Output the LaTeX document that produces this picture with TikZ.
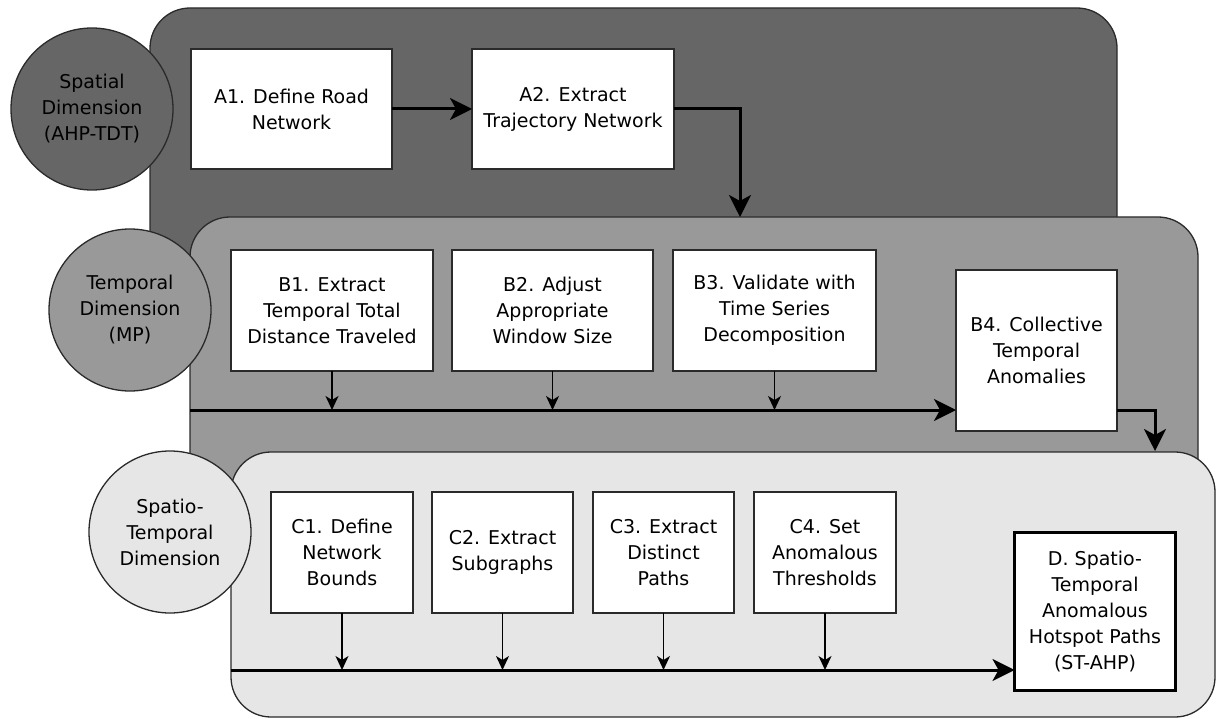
\documentclass[tikz,border=0pt]{standalone}
\usepackage{fontspec}
\setmainfont{DejaVu Sans}
\usetikzlibrary{arrows.meta}
\definecolor{panelA}{HTML}{666666}
\definecolor{panelB}{HTML}{999999}
\definecolor{panelC}{HTML}{E6E6E6}
\definecolor{edge}{HTML}{2A2A2A}
\tikzset{
  panel/.style={draw=edge, line width=1.3pt, rounded corners=40pt, inner sep=0pt, outer sep=0pt},
  dimcircle/.style={circle, draw=edge, line width=1.3pt, minimum size=162pt, inner sep=0pt, align=center, font=\fontsize{19}{26}\selectfont},
  stepbox/.style={draw=edge, fill=white, line width=1.3pt, inner sep=0pt, outer sep=0pt, align=center, font=\fontsize{19}{26}\selectfont},
  bigarrow/.style={line width=3pt, -{Stealth[length=22pt, width=22pt, inset=6pt]}},
  smallarrow/.style={line width=1.5pt, -{Stealth[length=14pt, width=13pt, inset=4pt]}},
  busline/.style={line width=3pt}
}
\begin{document}
\begin{tikzpicture}[x=1pt, y=-1pt]
\useasboundingbox (0,0) rectangle (1217,719);
% Panel A
\node[panel, fill=panelA, minimum width=967pt, minimum height=292pt] (pA) at (633.5,154) {};
\node[dimcircle, fill=panelA] (cA) at (92,109) {Spatial\\Dimension\\(AHP-TDT)};
\node[stepbox, minimum width=201pt, minimum height=120pt] (A1) at (291.5,109) {A1. Define Road\\Network};
\node[stepbox, minimum width=202pt, minimum height=120pt] (A2) at (573,109) {A2. Extract\\Trajectory Network};
\draw[bigarrow] (A1) -- (A2);
% Panel B
\node[panel, fill=panelB, minimum width=1008pt, minimum height=303pt] (pB) at (694,368.5) {};
\coordinate (Bin) at (740,217);
\draw[bigarrow] (A2.east) -| (Bin);
\node[dimcircle, fill=panelB] (cB) at (130,310) {Temporal\\Dimension\\(MP)};
\node[stepbox, minimum width=202pt, minimum height=121pt] (B1) at (332,310.5) {B1. Extract\\Temporal Total\\Distance Traveled};
\node[stepbox, minimum width=201pt, minimum height=121pt] (B2) at (552.5,310.5) {B2. Adjust\\Appropriate\\Window Size};
\node[stepbox, minimum width=203pt, minimum height=121pt] (B3) at (774.5,310.5) {B3. Validate with\\Time Series\\Decomposition};
\node[stepbox, minimum width=161pt, minimum height=161pt] (B4) at (1036.5,350.5) {B4. Collective\\Temporal\\Anomalies};
\coordinate (busB) at (190,410);
\draw[bigarrow] (busB) -- (B4.west |- busB);
\foreach \b in {B1,B2,B3} \draw[smallarrow] (\b.south) -- (\b.south |- busB);
% Panel C
\node[panel, fill=panelC, minimum width=984pt, minimum height=265pt] (pC) at (723,584.5) {};
\coordinate (Cin) at (1155,451);
\draw[bigarrow] (B4.east |- busB) -| (Cin);
\node[dimcircle, fill=panelC] (cC) at (170,532) {Spatio-\\Temporal\\Dimension};
\node[stepbox, minimum width=142pt, minimum height=121pt] (C1) at (342,552.5) {C1. Define\\Network\\Bounds};
\node[stepbox, minimum width=141pt, minimum height=121pt] (C2) at (502.5,552.5) {C2. Extract\\Subgraphs};
\node[stepbox, minimum width=141pt, minimum height=121pt] (C3) at (663.5,552.5) {C3. Extract\\Distinct\\Paths};
\node[stepbox, minimum width=142pt, minimum height=121pt] (C4) at (825,552.5) {C4. Set\\Anomalous\\Thresholds};
\node[stepbox, line width=3.5pt, draw=black, minimum width=161pt, minimum height=158pt] (D) at (1095,611.5) {D. Spatio-\\Temporal\\Anomalous\\Hotspot Paths\\(ST-AHP)};
\coordinate (busC) at (231,670);
\draw[bigarrow] (busC) -- (D.west |- busC);
\foreach \c in {C1,C2,C3,C4} \draw[smallarrow] (\c.south) -- (\c.south |- busC);
\end{tikzpicture}
\end{document}
